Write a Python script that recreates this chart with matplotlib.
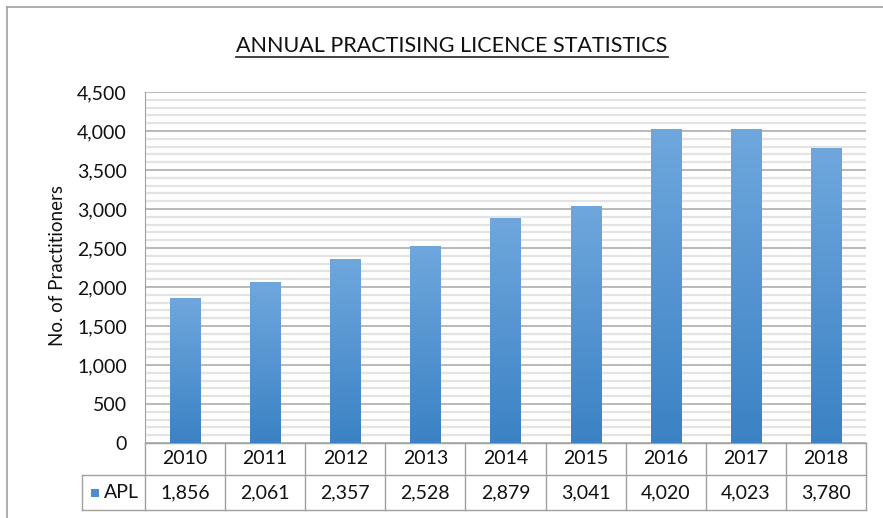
import matplotlib
matplotlib.use('Agg')
import matplotlib.pyplot as plt
import matplotlib.transforms as mtransforms
import numpy as np
from matplotlib.colors import LinearSegmentedColormap
from matplotlib.lines import Line2D
from matplotlib.patches import Rectangle

years = ['2010', '2011', '2012', '2013', '2014', '2015', '2016', '2017', '2018']
apl = [1856, 2061, 2357, 2528, 2879, 3041, 4020, 4023, 3780]
yticks = [0, 500, 1000, 1500, 2000, 2500, 3000, 3500, 4000, 4500]

plt.rcParams['font.family'] = ['Lato', 'DejaVu Sans']
txt = '#111111'
edge = '#a0a0a0'

fig = plt.figure(figsize=(8.83, 5.18), dpi=100)
ax = fig.add_axes([145/883, 1-443/518, 721/883, 351/518])

x = np.arange(len(years))
bars = ax.bar(x, apl, width=0.375, color='none', edgecolor='none', zorder=3)

# vertical gradient inside each bar
cmap = LinearSegmentedColormap.from_list('apl', ['#3b82c4', '#6fa7dd'])
grad = np.linspace(0, 1, 256).reshape(-1, 1)
for b in bars:
    x0, w, h = b.get_x(), b.get_width(), b.get_height()
    im = ax.imshow(grad, cmap=cmap, origin='lower', aspect='auto',
                   extent=[x0, x0 + w, 0, h], zorder=3)
    im.set_clip_path(b)

ax.set_xlim(-0.5, len(years) - 0.5)
ax.set_ylim(0, 4500)
ax.set_yticks(yticks)
ax.set_yticklabels([f'{v:,}' for v in yticks], fontsize=14, color=txt)
ax.set_yticks(np.arange(0, 4501, 100), minor=True)
ax.tick_params(axis='y', which='both', length=0, pad=13)
ax.set_xticks([])
ax.grid(axis='y', which='minor', color='#e3e3e3', lw=1.6, zorder=0)
ax.grid(axis='y', which='major', color='#b3b3b3', lw=1.3, zorder=1)
for s in ['top', 'right', 'bottom']:
    ax.spines[s].set_visible(False)
ax.spines['left'].set_color(edge)

ax.set_ylabel('No. of Practitioners', fontsize=13.5, color=txt)
ax.yaxis.set_label_coords(-79/721, 0.507)

# data table under the chart (x in category units, y in axes fraction)
tr = mtransforms.blended_transform_factory(ax.transData, ax.transAxes)
r1 = -32/351          # bottom of the year row
r2 = -67/351          # bottom of the APL row
lab_left = -0.5 - 63/80
n = len(years)
kw = dict(color=edge, lw=1.0, transform=tr, clip_on=False)
ax.add_line(Line2D([-0.5, n - 0.5], [0, 0], **kw))
ax.add_line(Line2D([lab_left, n - 0.5], [r1, r1], **kw))
ax.add_line(Line2D([lab_left, n - 0.5], [r2, r2], **kw))
ax.add_line(Line2D([lab_left, lab_left], [r1, r2], **kw))
ax.add_line(Line2D([-0.5, -0.5], [0, r2], **kw))
for i in range(n):
    ax.add_line(Line2D([i + 0.5, i + 0.5], [0, r2], **kw))
    ax.text(i, r1 / 2, years[i], transform=tr, ha='center', va='center',
            fontsize=14, color=txt)
    ax.text(i, (r1 + r2) / 2, f'{apl[i]:,}', transform=tr, ha='center',
            va='center', fontsize=14, color=txt)
ax.text(-0.5 - 6/80, (r1 + r2) / 2, 'APL', transform=tr, ha='right',
        va='center', fontsize=14, color=txt)
ax.add_patch(Rectangle((lab_left + 9/80, (r1 + r2) / 2 - 4/351), 8/80, 8/351,
                       transform=tr, facecolor='#4a8ed2', edgecolor='none',
                       clip_on=False))

# title with underline
title = fig.text(452/883, 1-52/518, 'ANNUAL PRACTISING LICENCE STATISTICS',
                 ha='center', va='baseline', fontsize=15.5, color=txt)
fig.canvas.draw()
bb = title.get_window_extent().transformed(fig.transFigure.inverted())
fig.add_artist(Line2D([bb.x0, bb.x1], [1-57/518, 1-57/518],
                      color='#333333', lw=1.3, transform=fig.transFigure))

# outer chart frame
fig.add_artist(Line2D([7/883, 7/883], [0, 1-7/518], color=edge, lw=1.2,
                      transform=fig.transFigure))
fig.add_artist(Line2D([7/883, 1], [1-7/518, 1-7/518], color=edge, lw=1.2,
                      transform=fig.transFigure))

fig.savefig('out.png', dpi=100)
